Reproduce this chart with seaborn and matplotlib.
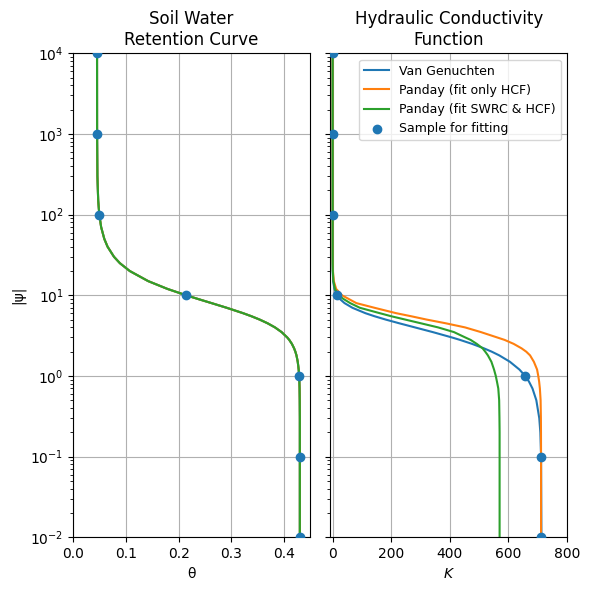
import matplotlib
matplotlib.use("Agg")
import matplotlib.pyplot as plt
import seaborn as sns

# pressure head |psi| values
psi = [0.01, 0.1, 0.2, 0.3, 0.5, 0.7, 0.85, 1,
       1.2, 1.5, 1.8, 2, 2.2, 2.5, 2.8, 3,
       3.5, 4, 4.5, 5, 5.5, 6, 7, 8,
       9, 10, 12, 15, 20, 25, 30, 40,
       50, 70, 100, 150, 300, 1000, 10000]

# water content (all three curves coincide in the SWRC panel)
theta_vg = [0.4300, 0.4300, 0.4300, 0.4300, 0.4298, 0.4295, 0.4291, 0.4286,
            0.4278, 0.4260, 0.4236, 0.4215, 0.4191, 0.4149, 0.4099, 0.4061,
            0.3953, 0.3828, 0.3687, 0.3537, 0.3381, 0.3223, 0.2912, 0.2624,
            0.2367, 0.2144, 0.1786, 0.1420, 0.1071, 0.0884, 0.0772, 0.0650,
            0.0588, 0.0528, 0.0493, 0.0472, 0.0457, 0.0451, 0.0450]

# hydraulic conductivity curves
k_vg = [712.8, 711.6, 709.1, 705.4, 695.4, 682.2, 670.4, 657.3,
        637.8, 605.1, 568.8, 543.2, 516.6, 475.9, 434.8, 407.5,
        341.6, 280.9, 227.2, 181.2, 143.0, 111.9, 67.6, 40.6,
        24.6, 15.1, 6.07, 1.80, 0.34, 0.09, 0.03, 0.005,
        0.001, 0, 0, 0, 0, 0, 0]
k_pan_hcf = [711.5, 711.5, 711.3, 711.0, 710.0, 707.5, 705.0, 702.0,
             698.0, 687.0, 674.0, 661.0, 645.0, 618.0, 587.0, 562.0,
             506.0, 452.0, 386.0, 321.0, 268.0, 217.0, 143.0, 81.0,
             55.0, 32.0, 12.0, 4.0, 1.0, 0.3, 0.1, 0.02,
             0.005, 0, 0, 0, 0, 0, 0]
k_pan_both = [570.0, 570.0, 570.0, 569.5, 568.5, 565.5, 561.0, 557.0,
              551.0, 542.0, 530.0, 521.0, 512.0, 492.0, 471.0, 453.0,
              414.0, 360.0, 301.0, 248.0, 200.0, 161.0, 93.0, 60.0,
              37.0, 20.0, 8.0, 2.5, 0.6, 0.15, 0.05, 0.01,
              0.002, 0, 0, 0, 0, 0, 0]

# fitting samples
psi_s = [0.01, 0.1, 1, 10, 100, 1000, 10000]
theta_s = [0.4300, 0.4300, 0.4286, 0.2144, 0.0493, 0.0451, 0.0450]
k_s = [712.8, 711.6, 657.3, 15.1, 0.0, 0.0, 0.0]

labels = ["Van Genuchten", "Panday (fit only HCF)", "Panday (fit SWRC & HCF)"]
colors = ["C0", "C1", "C2"]

fig, (ax1, ax2) = plt.subplots(1, 2, sharey=True, figsize=(5.89, 5.9), dpi=100)
fig.subplots_adjust(left=0.1245, right=0.9626, top=0.9097, bottom=0.0893, wspace=0.0857)

for lab, col in zip(labels, colors):
    sns.lineplot(x=theta_vg, y=psi, sort=False, estimator=None, color=col,
                 linewidth=1.5, ax=ax1)
sns.scatterplot(x=theta_s, y=psi_s, color="C0", s=36, linewidth=1, edgecolor="C0",
                ax=ax1, zorder=5)

for kv, lab, col in zip([k_vg, k_pan_hcf, k_pan_both], labels, colors):
    sns.lineplot(x=kv, y=psi, sort=False, estimator=None, color=col,
                 linewidth=1.5, label=lab, ax=ax2)
sns.scatterplot(x=k_s, y=psi_s, color="C0", s=36, linewidth=1, edgecolor="C0",
                ax=ax2, zorder=5, label="Sample for fitting")

for ax in (ax1, ax2):
    ax.set_yscale("log")
    ax.set_ylim(1e-2, 1e4)
    ax.grid(True)

ax1.set_xlim(0, 0.4493)
ax2.set_xlim(-8, 800)
ax2.set_xticks([0, 200, 400, 600, 800])
ax1.set_title("Soil Water\nRetention Curve")
ax2.set_title("Hydraulic Conductivity\nFunction")
ax1.set_xlabel("θ")
ax1.set_ylabel("|ψ|")
ax2.set_xlabel("$K$")
ax2.legend(loc="upper right", fontsize=9)

fig.savefig("out.png", dpi=100)
